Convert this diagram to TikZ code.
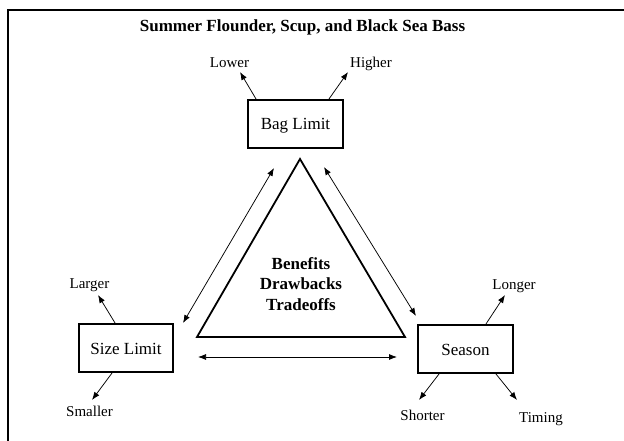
\documentclass[tikz,border=0pt]{standalone}
\usepackage{fontspec}
\setmainfont{Liberation Serif}
\usetikzlibrary{arrows.meta}
\begin{document}
\begin{tikzpicture}[x=1pt,y=-1pt,
  boxnode/.style={draw, line width=1.8pt, minimum width=95pt, minimum height=48pt,
    inner sep=0pt, text height=12pt, text depth=-4pt, font=\fontsize{17}{20}\selectfont},
  lbl/.style={anchor=base, inner sep=0pt, font=\fontsize{15}{18}\selectfont},
  arr/.style={-{Latex[length=8pt,width=6pt]}, line width=0.75pt},
  darr/.style={{Latex[length=8pt,width=6pt]}-{Latex[length=8pt,width=6pt]}, line width=0.75pt},
]
\useasboundingbox (0,0) rectangle (624,441);
% frame
\draw[line width=2pt] (8,441) -- (8,10) -- (624,10);
% title
\node[anchor=base, inner sep=0pt, font=\fontsize{17}{20}\selectfont\bfseries] (title) at (302.5,32) {Summer Flounder, Scup, and Black Sea Bass};
% boxes
\node[boxnode] (bag) at (295.5,124) {Bag Limit};
\node[boxnode, minimum width=94pt] (size) at (126,348) {Size Limit};
\node[boxnode] (season) at (465.5,349) {Season};
% triangle
\coordinate (apex) at (300,159);
\coordinate (bl) at (197,337);
\coordinate (br) at (405,337);
\draw[line width=1.8pt] (apex) -- (br) -- (bl) -- cycle;
\node[align=center, inner sep=0pt, font=\fontsize{17}{20.5}\selectfont\bfseries] (center) at (301,284) {Benefits\\Drawbacks\\Tradeoffs};
% labels
\node[lbl] (lower) at (229.5,68) {Lower};
\node[lbl] (higher) at (371,68) {Higher};
\node[lbl] (larger) at (89.5,288) {Larger};
\node[lbl] (smaller) at (89.5,416) {Smaller};
\node[lbl] (longer) at (514,289) {Longer};
\node[lbl] (shorter) at (422.5,420) {Shorter};
\node[lbl] (timing) at (541,422) {Timing};
% arrow tips
\coordinate (tLower) at (240,72);
\coordinate (tHigher) at (348,72);
\coordinate (tLarger) at (98,295);
\coordinate (tSmaller) at (92,400);
\coordinate (tLonger) at (505,295);
\coordinate (tShorter) at (419,400);
\coordinate (tTiming) at (517,400);
\draw[arr] ([xshift=9pt]bag.north west) -- (tLower);
\draw[arr] ([xshift=-15pt]bag.north east) -- (tHigher);
\draw[arr] ([xshift=37pt]size.north west) -- (tLarger);
\draw[arr] ([xshift=34pt]size.south west) -- (tSmaller);
\draw[arr] ([xshift=-28pt]season.north east) -- (tLonger);
\draw[arr] ([xshift=22pt]season.south west) -- (tShorter);
\draw[arr] ([xshift=-18pt]season.south east) -- (tTiming);
% double arrows
\coordinate (lA) at (274,168);
\coordinate (lB) at (183,323);
\coordinate (rA) at (324,167);
\coordinate (rB) at (416,316);
\coordinate (bA) at (198,357);
\coordinate (bB) at (397,357);
\draw[darr] (lA) -- (lB);
\draw[darr] (rA) -- (rB);
\draw[darr] (bA) -- (bB);
\end{tikzpicture}
\end{document}
